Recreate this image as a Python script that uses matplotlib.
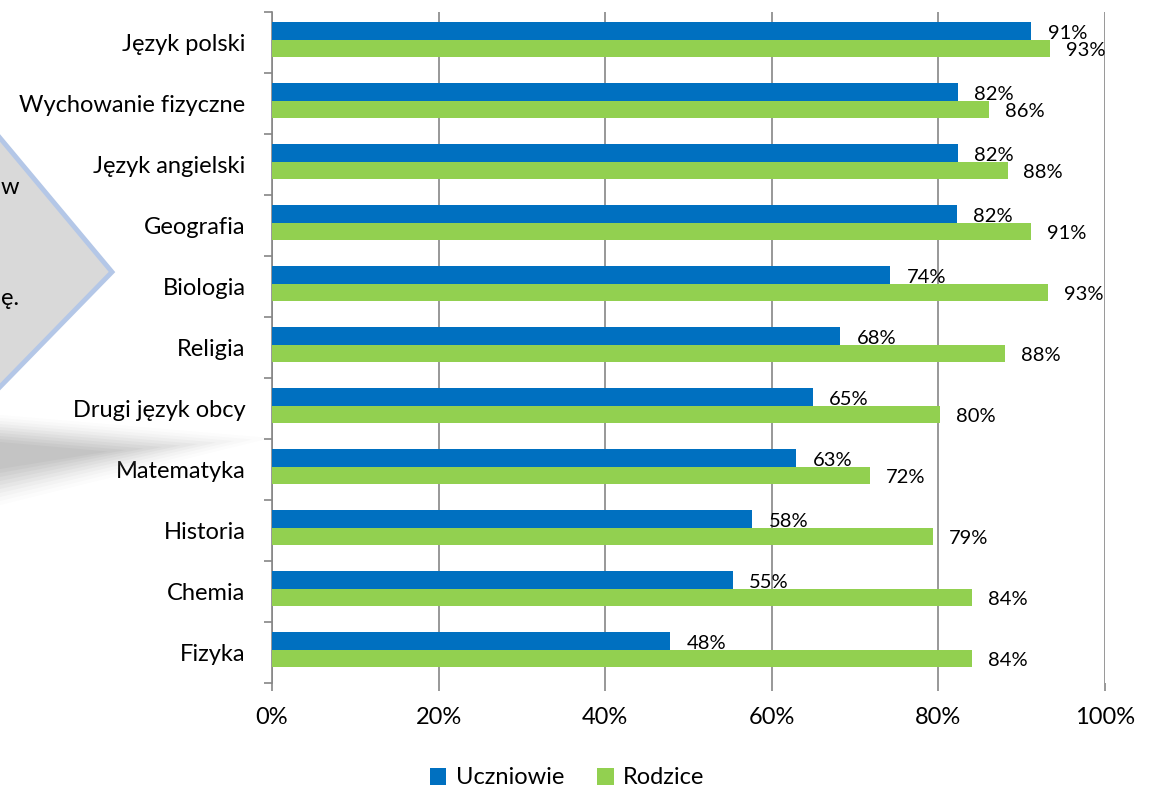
import matplotlib.pyplot as plt
import matplotlib.patches as mpatches
import numpy as np

przedmioty = ['Język polski', 'Wychowanie fizyczne', 'Język angielski', 'Geografia',
              'Biologia', 'Religia', 'Drugi język obcy', 'Matematyka', 'Historia',
              'Chemia', 'Fizyka']
uczniowie = [91, 82, 82, 82, 74, 68, 65, 63, 58, 55, 48]
rodzice = [93, 86, 88, 91, 93, 88, 80, 72, 79, 84, 84]
# bar lengths (labels are rounded)
uczniowie_len = [91.1, 82.3, 82.3, 82.2, 74.2, 68.2, 64.9, 62.9, 57.6, 55.3, 47.8]
rodzice_len = [93.4, 86.1, 88.3, 91.1, 93.2, 88.0, 80.2, 71.8, 79.4, 84.0, 84.0]

blue = '#0070c0'
green = '#92d050'
grey = '#868686'

plt.rcParams['font.family'] = ['Lato', 'DejaVu Sans']

fig = plt.figure(figsize=(11.5, 7.89), dpi=100)
ax = fig.add_axes([272/1150, 1-683/789, (1105-272)/1150, (683-12)/789])

# decorative shape cut off at the left edge
W, H = 1150., 789.
pts = [(-5, 132), (112, 272), (-5, 392)]
poly = mpatches.Polygon([(x/W, 1-y/H) for x, y in pts], closed=True,
                        transform=fig.transFigure, facecolor='#d9d9d9',
                        edgecolor='#b4c7e7', lw=3.5, zorder=0)
fig.patches.append(poly)
for i, a in enumerate(np.linspace(0.03, 0.16, 10)):
    sh = [(0, 415+i*3), (270-i*18, 438+i*1.5), (0, 505-i*4)]
    fig.patches.append(mpatches.Polygon([(x/W, 1-y/H) for x, y in sh], closed=True,
                                        transform=fig.transFigure, facecolor='#a6a6a6',
                                        edgecolor='none', alpha=a, zorder=0))
fig.text(1/W, 1-188/H, 'w', fontsize=17, va='center', ha='left')
fig.text(1/W, 1-298/H, 'ę.', fontsize=17, va='center', ha='left')

y = np.arange(len(przedmioty))
h = 0.29
ax.barh(y - 0.19, uczniowie_len, height=h, color=blue, label='Uczniowie', zorder=3)
ax.barh(y + 0.10, rodzice_len, height=h, color=green, label='Rodzice', zorder=3)

for i in range(len(przedmioty)):
    ax.text(uczniowie_len[i] + 2.0, y[i] - 0.14, '%d%%' % uczniowie[i], fontsize=14.5,
            va='center', ha='left', zorder=4)
    ax.text(rodzice_len[i] + 1.9, y[i] + 0.13, '%d%%' % rodzice[i], fontsize=14.5,
            va='center', ha='left', zorder=4)

ax.set_xlim(0, 100)
ax.set_ylim(len(przedmioty) - 0.5, -0.5)
ax.set_xticks(np.arange(0, 101, 20))
ax.set_xticklabels(['%d%%' % v for v in range(0, 101, 20)], fontsize=17)
ax.xaxis.grid(True, color=grey, lw=1.2, zorder=0)
ax.set_yticks(y)
ax.set_yticklabels(przedmioty, fontsize=17)
ax.set_yticks(np.arange(-0.5, len(przedmioty)), minor=True)
ax.tick_params(axis='y', which='major', length=0, pad=19)
ax.tick_params(axis='y', which='minor', length=6, color=grey, width=1.2)
ax.tick_params(axis='x', length=6, color=grey, width=1.2, pad=11)
for s in ['top', 'right', 'bottom']:
    ax.spines[s].set_visible(False)
ax.spines['left'].set_color(grey)
ax.spines['left'].set_linewidth(1.2)

ax.legend(loc='center', bbox_to_anchor=(567/W, 1-778/H), bbox_transform=fig.transFigure,
          ncol=2, frameon=False, fontsize=17, handlelength=0.7, handleheight=0.7,
          handletextpad=0.4, columnspacing=1.4)

fig.savefig('out.png', dpi=100)
